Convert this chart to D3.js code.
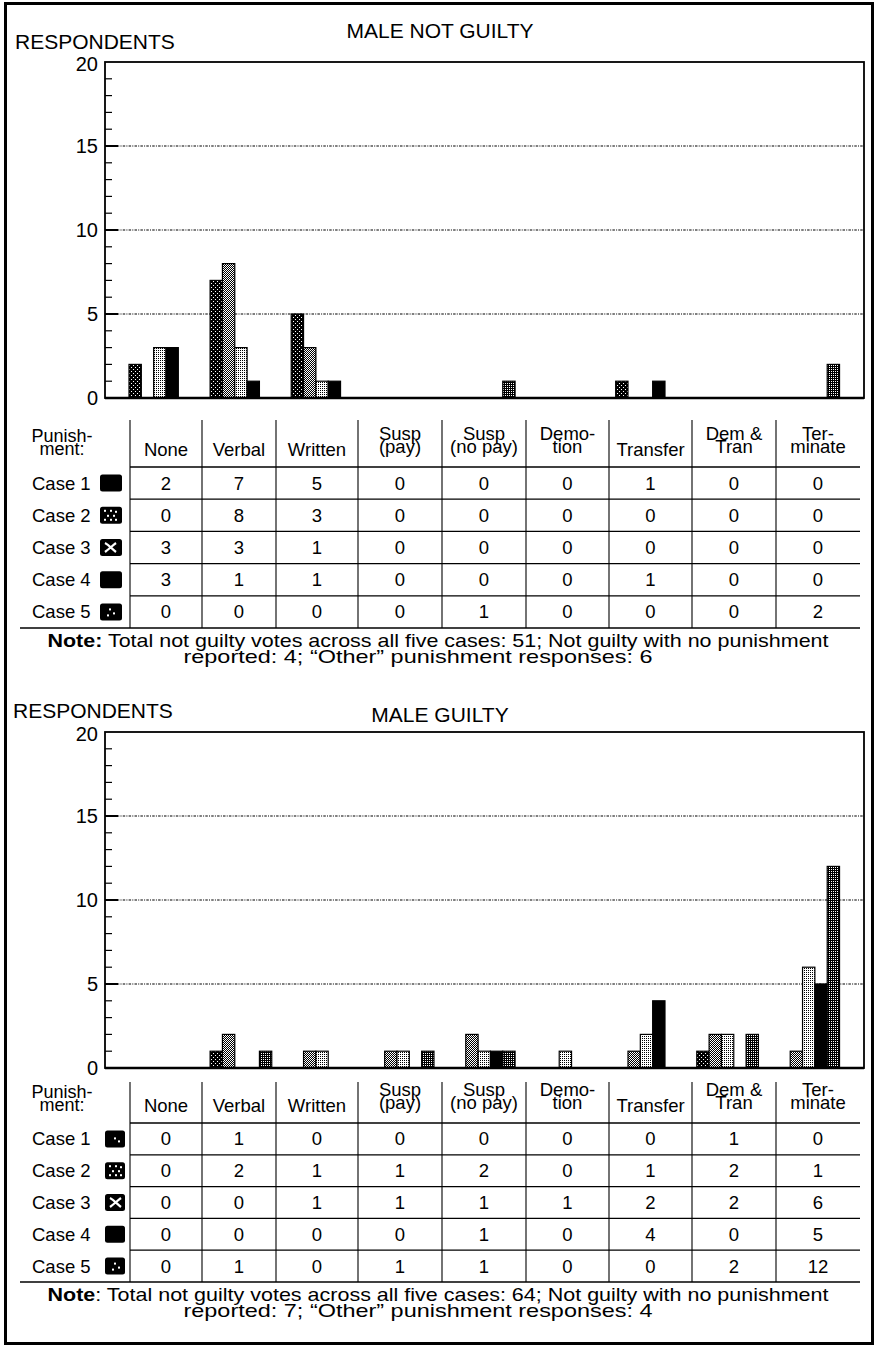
<!DOCTYPE html>
<html><head><meta charset="utf-8">
<script src="https://cdn.jsdelivr.net/npm/d3@7"></script>
<style>
body{margin:0;background:#fff}
svg{display:block}
text{font-family:"Liberation Sans",Arial,Helvetica,sans-serif;fill:#000}
</style>
</head><body>
<svg id="chart" width="876" height="1349"></svg>
<script>
// ---------------- DATA ----------------
const categories = ["None","Verbal","Written","Susp (pay)","Susp (no pay)","Demotion","Transfer","Dem & Tran","Terminate"];
const headerLines = [["None"],["Verbal"],["Written"],["Susp","(pay)"],["Susp","(no pay)"],["Demo-","tion"],["Transfer"],["Dem &","Tran"],["Ter-","minate"]];
const caseNames = ["Case 1","Case 2","Case 3","Case 4","Case 5"];
const yTicks = [0,5,10,15,20];

const notGuiltyCase1 = [2,7,5,0,0,0,1,0,0];
const notGuiltyCase2 = [0,8,3,0,0,0,0,0,0];
const notGuiltyCase3 = [3,3,1,0,0,0,0,0,0];
const notGuiltyCase4 = [3,1,1,0,0,0,1,0,0];
const notGuiltyCase5 = [0,0,0,0,1,0,0,0,2];

const guiltyCase1 = [0,1,0,0,0,0,0,1,0];
const guiltyCase2 = [0,2,1,1,2,0,1,2,1];
const guiltyCase3 = [0,0,1,1,1,1,2,2,6];
const guiltyCase4 = [0,0,0,0,1,0,4,0,5];
const guiltyCase5 = [0,1,0,1,1,0,0,2,12];

const notGuiltyTitle = "MALE NOT GUILTY";
const guiltyTitle = "MALE GUILTY";
const notGuiltyNote = ["Total not guilty votes across all five cases: 51; Not guilty with no punishment", "reported: 4; \u201COther\u201D punishment responses:  6"];
const guiltyNote = ["Total not guilty votes across all five cases: 64; Not guilty with no punishment", "reported: 7; \u201COther\u201D punishment responses:  4"];

// ---------------- LAYOUT ----------------
const svg = d3.select("#chart");
const plotLeft = 105, plotRight = 864;
const colEdges = [130,202,276,358,442,526,609,692,776,860];

const defs = svg.append("defs");
function makePattern(id, size, bg, fg, pixels){
  const p = defs.append("pattern").attr("id", id).attr("patternUnits","userSpaceOnUse")
    .attr("width", size).attr("height", size);
  p.append("rect").attr("width", size).attr("height", size).attr("fill", bg);
  pixels.forEach(([x,y]) => p.append("rect").attr("x",x).attr("y",y).attr("width",1).attr("height",1).attr("fill",fg));
}
makePattern("p1", 4, "#000", "#fff", [[1,1],[3,3]]);
makePattern("p2", 2, "#000", "#fff", [[0,0],[1,1]]);
makePattern("p3", 2, "#fff", "#000", [[0,0]]);
makePattern("p4", 4, "#000", "#000", []);
makePattern("p5", 2, "#000", "#fff", [[1,1]]);
const fillScale = d3.scaleOrdinal().domain(caseNames).range(["url(#p1)","url(#p2)","url(#p3)","url(#p4)","url(#p5)"]);

// decorative dots for legend swatches (relative to a 21x17 swatch)
const swatchDots = {
  "Case 1": [[9,7],[13,10]],
  "Case 2": [[4,3],[10,3],[15,4],[7,8],[13,8],[4,12],[10,12],[15,12]],
  "Case 3": [],
  "Case 4": [],
  "Case 5": [[9,5],[13,9],[7,11]]
};

// outer border
svg.append("rect").attr("x",5.5).attr("y",3.5).attr("width",867).attr("height",1340)
  .attr("fill","none").attr("stroke","#000").attr("stroke-width",3);

const xBand = d3.scaleBand().domain(categories).range([130,860]).paddingInner(0).paddingOuter(0);
const xCase = d3.scaleBand().domain(caseNames).range([0, xBand.bandwidth()*0.76]);

function drawPanel(cfg){
  const g = svg.append("g");
  const series = cfg.series;
  // titles
  g.append("text").attr("x",cfg.respX).attr("y",cfg.respY).attr("font-size",21).text("RESPONDENTS");
  g.append("text").attr("x",440).attr("y",cfg.titleY).attr("font-size",21).attr("text-anchor","middle").text(cfg.title);

  const y = d3.scaleLinear().domain([0,20]).range([cfg.plotBottom, cfg.plotTop]);

  // gridlines
  g.selectAll(".grid").data([5,10,15]).join("line")
    .attr("x1",plotLeft).attr("x2",plotRight).attr("y1",d=>y(d)).attr("y2",d=>y(d))
    .attr("stroke","#000").attr("stroke-width",1.2).attr("stroke-dasharray","2.5,1.2,1,1.2");

  // ticks
  g.selectAll(".minor").data(d3.range(1,20)).join("line")
    .attr("x1",plotLeft).attr("x2",d=> d%5===0 ? plotLeft+13 : plotLeft+7)
    .attr("y1",d=>y(d)).attr("y2",d=>y(d)).attr("stroke","#000").attr("stroke-width",d=>d%5===0?2:1.2);

  // bars
  series.forEach((vals, ci) => {
    const cname = caseNames[ci];
    g.selectAll(".bar"+ci).data(categories.map((c,i)=>({c, v: vals[i]})).filter(d=>d.v>0)).join("rect")
      .attr("x", d => xBand(d.c) - 1 + xCase(cname))
      .attr("width", xCase.bandwidth())
      .attr("y", d => y(d.v))
      .attr("height", d => y(0) - y(d.v))
      .attr("fill", fillScale(cname))
      .attr("stroke","#000").attr("stroke-width",1.2);
  });

  // frame
  g.append("rect").attr("x",plotLeft).attr("y",cfg.plotTop).attr("width",plotRight-plotLeft).attr("height",cfg.plotBottom-cfg.plotTop)
    .attr("fill","none").attr("stroke","#000").attr("stroke-width",1.8);
  g.append("line").attr("x1",plotLeft).attr("x2",plotRight).attr("y1",y(0)).attr("y2",y(0)).attr("stroke","#000").attr("stroke-width",2.5);

  // y tick labels
  g.selectAll(".ytl").data(yTicks).join("text")
    .attr("x",98).attr("y",d=>y(d)+ (d===20?9:7)).attr("text-anchor","end").attr("font-size",20).text(d=>d);

  // ---- table ----
  const rowH = (cfg.tableBottom - cfg.headerLine)/5;
  g.selectAll(".vl").data(colEdges.slice(0,9)).join("line")
    .attr("x1",d=>d).attr("x2",d=>d).attr("y1",cfg.tableTop).attr("y2",cfg.tableBottom)
    .attr("stroke","#000").attr("stroke-width",1.1);
  g.selectAll(".hl").data(d3.range(0,5)).join("line")
    .attr("x1",colEdges[0]).attr("x2",colEdges[9])
    .attr("y1",i=>cfg.headerLine + i*rowH).attr("y2",i=>cfg.headerLine + i*rowH)
    .attr("stroke","#000").attr("stroke-width",1.3);
  g.append("line").attr("x1",20).attr("x2",colEdges[9]).attr("y1",cfg.tableBottom).attr("y2",cfg.tableBottom)
    .attr("stroke","#000").attr("stroke-width",1.3);

  // header
  const ph = g.append("text").attr("font-size",18).attr("text-anchor","middle");
  ph.append("tspan").attr("x",62).attr("y",cfg.headerLine-25).text("Punish-");
  ph.append("tspan").attr("x",62).attr("y",cfg.headerLine-12).text("ment:");
  headerLines.forEach((lines,i) => {
    const cx = (colEdges[i]+colEdges[i+1])/2;
    const t = g.append("text").attr("font-size",18.5).attr("text-anchor","middle");
    if(lines.length===1){
      t.append("tspan").attr("x",cx).attr("y",cfg.headerLine-11).text(lines[0]);
    } else {
      t.append("tspan").attr("x",cx).attr("y",cfg.headerLine-27).text(lines[0]);
      t.append("tspan").attr("x",cx).attr("y",cfg.headerLine-14).text(lines[1]);
    }
  });

  // rows
  series.forEach((vals, ci) => {
    const cname = caseNames[ci];
    const cy = cfg.headerLine + rowH*(ci+0.5);
    g.append("text").attr("x",32).attr("y",cy+6.5).attr("font-size",18.5).text(cname);
    const sw = g.append("g").attr("transform",`translate(${cfg.swX},${cy-8.5})`);
    sw.append("rect").attr("width",cfg.swW).attr("height",17).attr("rx",2.5).attr("fill","#000");
    const dots = (cfg.plainCase1 && ci===0) ? [] : swatchDots[cname];
    dots.forEach(([dx,dy]) => sw.append("rect").attr("x",dx).attr("y",dy).attr("width",2).attr("height",2).attr("fill","#fff"));
    if(cname==="Case 3"){
      sw.append("path").attr("d","M5,4 C9,6 12,10 16,13 M16,4 C12,7 9,10 5,13")
        .attr("stroke","#fff").attr("stroke-width",2.2).attr("fill","none");
    }
    vals.forEach((v,i) => {
      g.append("text").attr("x",(colEdges[i]+colEdges[i+1])/2).attr("y",cy+6.5)
        .attr("text-anchor","middle").attr("font-size",18.5).text(v);
    });
  });

  // note
  const n1 = g.append("text").attr("x",438).attr("y",cfg.noteY[0]).attr("text-anchor","middle").attr("font-size",19)
    .attr("textLength",781).attr("lengthAdjust","spacingAndGlyphs");
  n1.append("tspan").attr("font-weight","bold").text(cfg.noteBoldColon ? "Note:" : "Note");
  n1.append("tspan").text((cfg.noteBoldColon ? " " : ": ") + cfg.note[0]);
  g.append("text").attr("x",418).attr("y",cfg.noteY[1]).attr("text-anchor","middle").attr("font-size",19)
    .attr("textLength",469).attr("lengthAdjust","spacingAndGlyphs").text(cfg.note[1]);
}

drawPanel({
  series:[notGuiltyCase1,notGuiltyCase2,notGuiltyCase3,notGuiltyCase4,notGuiltyCase5],
  title:notGuiltyTitle, titleY:38, respX:15, respY:49,
  plotTop:62, plotBottom:398,
  tableTop:420, headerLine:467, tableBottom:628,
  swX:100, swW:22, note:notGuiltyNote, noteBoldColon:true, noteY:[647,663], plainCase1:true
});
drawPanel({
  series:[guiltyCase1,guiltyCase2,guiltyCase3,guiltyCase4,guiltyCase5],
  title:guiltyTitle, titleY:722, respX:13, respY:718,
  plotTop:732, plotBottom:1068,
  tableTop:1082, headerLine:1123, tableBottom:1282,
  swX:105, swW:20, note:guiltyNote, noteBoldColon:false, noteY:[1301,1317], plainCase1:false
});
</script>
</body></html>
